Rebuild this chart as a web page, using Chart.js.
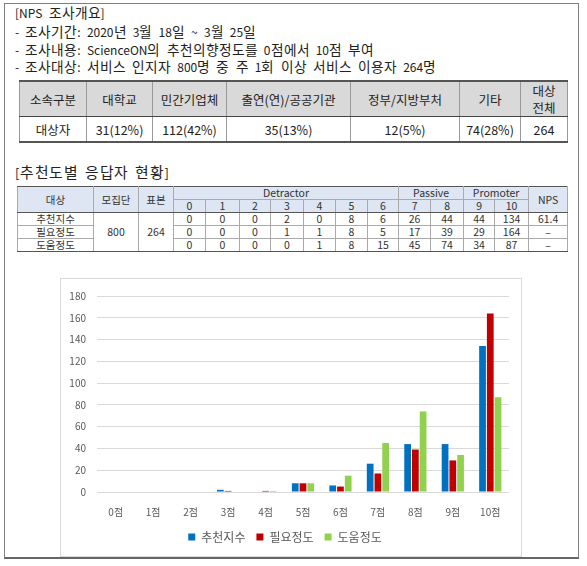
<!DOCTYPE html>
<html>
<head>
<meta charset="utf-8">
<script src="https://cdn.jsdelivr.net/npm/chart.js@4"></script>
<style>
  /* Hangul a bit wider than the Latin text, like the original document font */
  @font-face {
    font-family: "KRwide";
    src: local("Noto Sans CJK KR Regular"), local("NotoSansCJKkr-Regular"), local("Noto Sans CJK KR");
    size-adjust: 114%;
    unicode-range: U+1100-11FF, U+3130-318F, U+AC00-D7AF;
  }
  html, body { margin: 0; padding: 0; background: #fff; }
  body { width: 587px; height: 566px; position: relative; overflow: hidden;
         font-family: "Noto Sans CJK KR", "Noto Sans", sans-serif; color: #222; }
  .frame { position: absolute; left: 4px; top: 3px; width: 573px; height: 553px;
           border: 1px solid #7f7f7f; border-bottom: 2px solid #666; }
  .line { position: absolute; left: 15px; font-family: "KRwide", "Noto Sans CJK KR", sans-serif;
          font-size: 12px; line-height: 18px; word-spacing: 3.5px; white-space: nowrap; }
  table { position: absolute; border-collapse: collapse; table-layout: fixed; }
  td { padding: 0; text-align: center; white-space: nowrap; }
  #t1 { left: 19px; top: 80px; width: 548px; font-size: 12.5px; }
  #t1 td { border-left: 1px solid #999; border-right: 1px solid #999; }
  #t1 tr.h td { background: #d9d9d9; height: 34px; border-top: 2px solid #555; border-bottom: 1px solid #444; line-height: 17px; }
  #t1 tr.d td { height: 24px; border-bottom: 2px solid #555; }
  #t2 { left: 17px; top: 186px; width: 550px; font-size: 10.5px; color: #333; }
  #t2 td { border: 1px solid #aaa; height: 12px; line-height: 12px; }
  #t2 tr.h td { background: #dde6f2; }
  #t2 tr.h1 td { border-top: 1px solid #555; }
  #t2 tr.h2 td, #t2 td.hb { border-bottom: 1px solid #555; }
  #t2 tr.last td, #t2 td.rs { border-bottom: 1px solid #555; }
  .title2 { position: absolute; left: 15px; top: 164px; font-family: "KRwide", "Noto Sans CJK KR", sans-serif;
            font-size: 13px; line-height: 18px; letter-spacing: 0.6px; word-spacing: 3px; white-space: nowrap; }
  .chartbox { position: absolute; left: 60px; top: 278px; width: 460px; height: 277px; border: 1px solid #d9d9d9; }
</style>
</head>
<body>
<div class="frame"></div>
<div class="line" style="top:4px">[NPS 조사개요]</div>
<div class="line" style="top:23px">- 조사기간: 2020년 3월 18일 ~ 3월 25일</div>
<div class="line" style="top:41px">- 조사내용: ScienceON의 추천의향정도를 0점에서 10점 부여</div>
<div class="line" style="top:58px">- 조사대상: 서비스 인지자 800명 중 주 1회 이상 서비스 이용자 264명</div>

<table id="t1"></table>

<div class="title2">[추천도별 응답자 현황]</div>
<table id="t2"></table>

<div class="chartbox"><canvas id="chart" width="460" height="277"></canvas></div>

<script>
// 소속구분 table
const affiliations = ['대학교', '민간기업체', '출연(연)/공공기관', '정부/지방부처', '기타'];
const affiliationCounts = ['31(12%)', '112(42%)', '35(13%)', '12(5%)', '74(28%)'];
const totalRespondents = 264;
const population = 800;

// 추천도별 응답자 (0점 ~ 10점)
const scoreLabels = ['0점', '1점', '2점', '3점', '4점', '5점', '6점', '7점', '8점', '9점', '10점'];
const seriesNames = ['추천지수', '필요정도', '도움정도'];
const recommendScores = [0, 0, 0, 2, 0, 8, 6, 26, 44, 44, 134];
const needScores = [0, 0, 0, 1, 1, 8, 5, 17, 39, 29, 164];
const helpScores = [0, 0, 0, 0, 1, 8, 15, 45, 74, 34, 87];
const npsValues = ['61.4', '–', '–'];
const yTicks = [0, 20, 40, 60, 80, 100, 120, 140, 160, 180];

// table 1
const t1 = document.getElementById('t1');
const t1Widths = [67, 66, 74, 124, 109, 61, 47];
let html = '<colgroup>' + t1Widths.map(w => `<col style="width:${w}px">`).join('') + '</colgroup>';
html += '<tr class="h"><td>소속구분</td>' + affiliations.map(a => `<td>${a}</td>`).join('') + '<td>대상<br>전체</td></tr>';
html += '<tr class="d"><td>대상자</td>' + affiliationCounts.map(a => `<td>${a}</td>`).join('') + `<td>${totalRespondents}</td></tr>`;
t1.innerHTML = html;

// table 2
const t2 = document.getElementById('t2');
const t2Widths = [76, 45, 35, 32, 34, 31, 33, 32, 32, 31, 32, 33, 31, 34, 39];
const rows = [recommendScores, needScores, helpScores];
html = '<colgroup>' + t2Widths.map(w => `<col style="width:${w}px">`).join('') + '</colgroup>';
html += '<tr class="h h1"><td rowspan="2" class="hb">대상</td><td rowspan="2" class="hb">모집단</td><td rowspan="2" class="hb">표본</td>'
  + '<td colspan="7">Detractor</td><td colspan="2">Passive</td><td colspan="2">Promoter</td><td rowspan="2" class="hb">NPS</td></tr>';
html += '<tr class="h h2">' + scoreLabels.map((_, i) => `<td>${i}</td>`).join('') + '</tr>';
rows.forEach((r, i) => {
  html += `<tr class="${i === 2 ? 'last' : ''}"><td>${seriesNames[i]}</td>`;
  if (i === 0) html += `<td rowspan="3" class="rs">${population}</td><td rowspan="3" class="rs">${totalRespondents}</td>`;
  html += r.map(v => `<td>${v}</td>`).join('') + `<td>${npsValues[i]}</td></tr>`;
});
t2.innerHTML = html;

// chart
const colors = ['#0070c0', '#c00000', '#92d050'];
const font = '"Noto Sans CJK KR"';
new Chart(document.getElementById('chart').getContext('2d'), {
  type: 'bar',
  data: {
    labels: scoreLabels,
    datasets: [recommendScores, needScores, helpScores].map((d, i) => ({
      label: seriesNames[i],
      data: d,
      backgroundColor: colors[i],
      categoryPercentage: 0.62,
      barPercentage: 0.87
    }))
  },
  options: {
    responsive: false,
    animation: false,
    layout: { padding: { top: 7, right: 12, bottom: 3, left: 0 } },
    plugins: {
      tooltip: { enabled: false },
      legend: {
        position: 'bottom',
        labels: {
          boxWidth: 7, boxHeight: 7, padding: 11, color: '#595959',
          font: { family: font, size: 12 }
        }
      }
    },
    scales: {
      x: {
        afterFit: s => { s.height = 28; },
        grid: { display: false, drawTicks: false },
        border: { display: false },
        ticks: { color: '#595959', padding: 14, font: { family: font, size: 10 } }
      },
      y: {
        min: 0, max: 180,
        afterFit: s => { s.width = 36; },
        afterBuildTicks: s => { s.ticks = yTicks.map(v => ({ value: v })); },
        grid: { color: '#d9d9d9', drawTicks: false },
        border: { display: false },
        ticks: { color: '#595959', padding: 11, font: { family: font, size: 10 } }
      }
    }
  }
});
</script>
</body>
</html>
